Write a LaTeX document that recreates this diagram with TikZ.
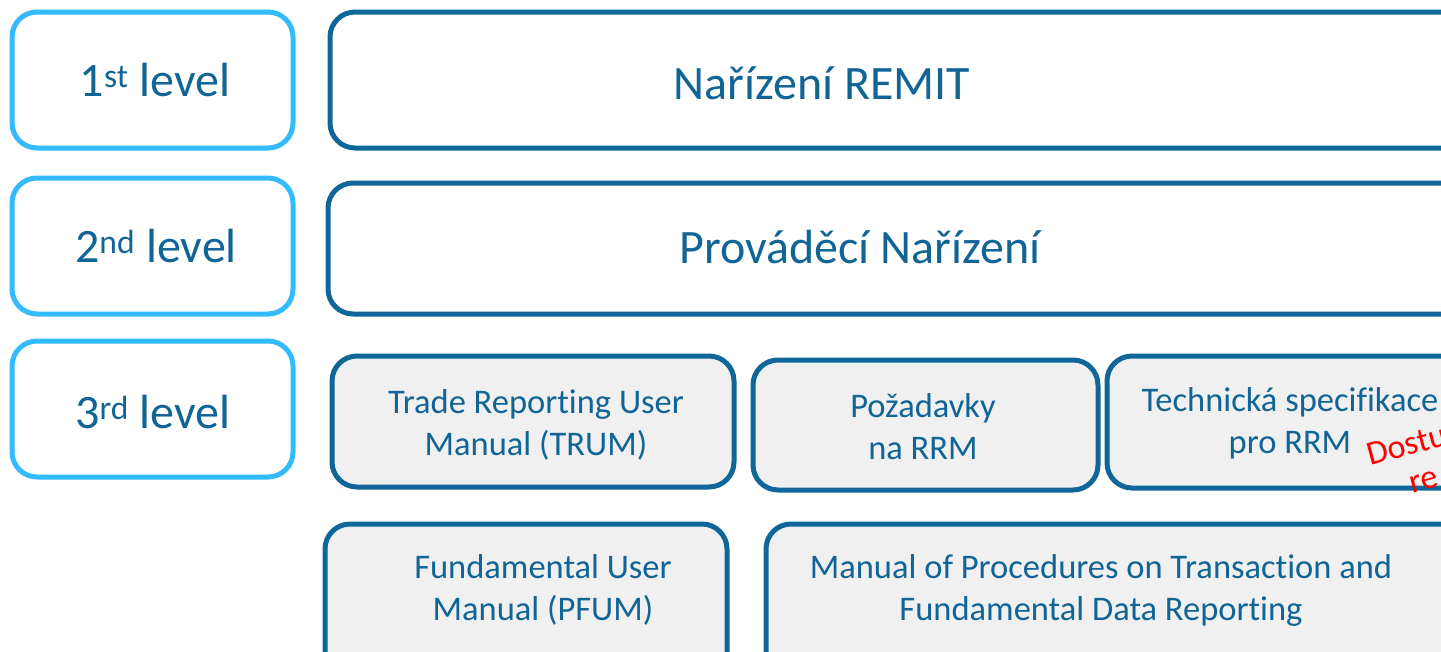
\documentclass[tikz,border=0pt]{standalone}
\usepackage{fontspec}
\setmainfont{Carlito}[Ligatures=NoCommon]
\definecolor{dblue}{RGB}{14,102,153}
\definecolor{lblue}{RGB}{51,187,255}
\definecolor{boxfill}{RGB}{240,240,240}
\definecolor{txt}{RGB}{16,100,150}
\tikzset{
  lvl/.style={draw=lblue, line width=5pt, rounded corners=25pt, fill=white},
  top/.style={draw=dblue, line width=5pt, rounded corners=25pt, fill=white},
  doc/.style={draw=dblue, line width=5pt, rounded corners=25pt, fill=boxfill},
  lbl/.style={text=txt, align=center, font=\fontsize{48}{56}\selectfont},
  dlbl/.style={text=txt, align=center, font=\fontsize{34.5}{42}\selectfont},
  red/.style={text=red, font=\fontsize{34}{40}\selectfont, rotate=15, anchor=base west, inner sep=0pt}
}
\begin{document}
\begin{tikzpicture}[x=1pt,y=-1pt]
\useasboundingbox (0,0) rectangle (1441,651);
\clip (0,0) rectangle (1441,651);
% level boxes
\draw[lvl] (12,12) rectangle (293,148);
\draw[lvl] (12,178) rectangle (293,314);
\draw[lvl] (12,341) rectangle (293,477);
\node[lbl] (l1) at (155,80) {1\textsuperscript{st} level};
\node[lbl] (l2) at (156,246) {2\textsuperscript{nd} level};
\node[lbl] (l3) at (153,412) {3\textsuperscript{rd} level};
% top boxes
\draw[top] (330,12) rectangle (1470,148);
\draw[top] (328,183) rectangle (1470,314);
\node[lbl] (remit) at (822,83) {Nařízení REMIT};
\node[lbl] (prov) at (860,247) {Prováděcí Nařízení};
% doc boxes
\draw[doc] (332,356) rectangle (734,487);
\draw[doc] (753,360) rectangle (1098,490);
\draw[doc] (1107,356) rectangle (1470,488);
\draw[doc] (325,524) rectangle (727,680);
\draw[doc] (766,524) rectangle (1470,680);
\node[dlbl] (trum) at (536,425) {Trade Reporting User\\Manual (TRUM)};
\node[dlbl] (rrm) at (923,427) {Požadavky\\na RRM};
\node[dlbl] (tech) at (1290,423) {Technická specifikace\\pro RRM};
\node[dlbl] (pfum) at (543,590) {Fundamental User\\Manual (PFUM)};
\node[dlbl] (mop) at (1101,590) {Manual of Procedures on Transaction and\\Fundamental Data Reporting};
\node[red] (d1) at (1370,466) {Dostu};
\node[red] (d2) at (1412,494) {re};
\end{tikzpicture}
\end{document}
